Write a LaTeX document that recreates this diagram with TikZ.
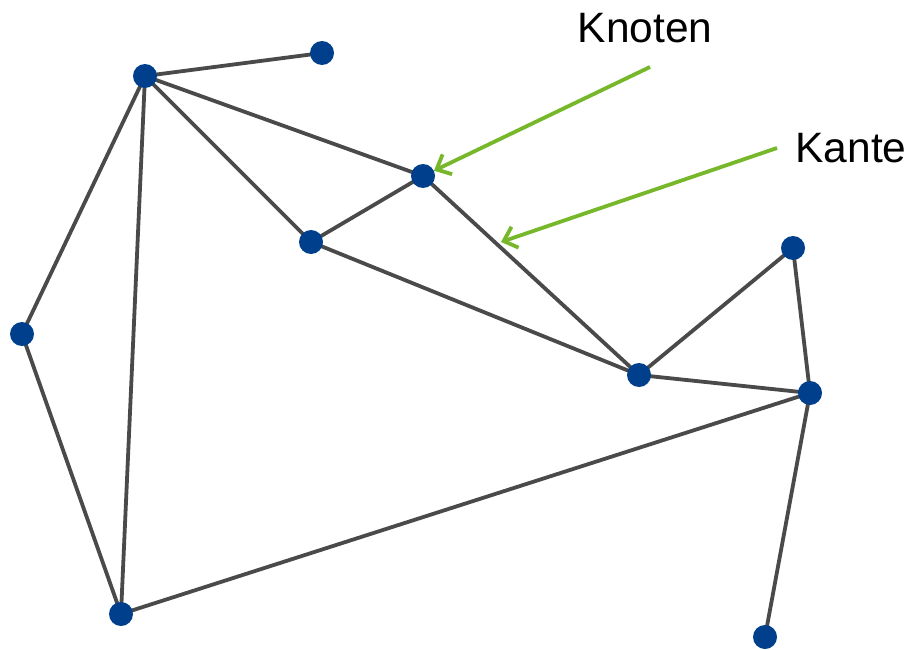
\documentclass[tikz,border=0pt]{standalone}
\usepackage{fontspec}
\setmainfont{Liberation Sans}
\usetikzlibrary{arrows.meta}
\definecolor{nodeblue}{HTML}{003F8C}
\definecolor{edgegray}{HTML}{4A4A4A}
\definecolor{arrowgreen}{HTML}{76B82A}
\begin{document}
\begin{tikzpicture}[x=1pt,y=-1pt,
  vertex/.style={circle,fill=nodeblue,inner sep=0pt,minimum size=24pt},
  edge/.style={draw=edgegray,line width=3.8pt},
  pointer/.style={draw=arrowgreen,line width=3.8pt,-{Straight Barb[length=12pt,width=22pt,line width=3.8pt]}},
  label/.style={font=\fontsize{42.5}{50}\selectfont,inner sep=0pt}]
\useasboundingbox (0,0) rectangle (915,650);
\coordinate (A) at (145,76);
\coordinate (B) at (322,53);
\coordinate (C) at (423,176);
\coordinate (D) at (311,242);
\coordinate (E) at (22,334);
\coordinate (F) at (639,375);
\coordinate (G) at (793,248);
\coordinate (H) at (810,393);
\coordinate (I) at (121,614);
\coordinate (J) at (765,637);
\path[edge] (A)--(B) (A)--(C) (A)--(D) (A)--(E) (A)--(I) (D)--(C) (C)--(F) (D)--(F)
  (E)--(I) (F)--(G) (F)--(H) (G)--(H) (H)--(I) (H)--(J);
\foreach \n in {A,B,C,D,E,F,G,H,I,J} \node[vertex] (n\n) at (\n) {};
\node[label] (knoten) at (645,28) {Knoten};
\node[label] (kante) at (851,148) {Kante};
\coordinate (k1) at (650,67);
\coordinate (k2) at (777,148);
\coordinate (e1) at (501,242);
\draw[pointer] (k1) -- (nC);
\draw[pointer] (k2) -- (e1);
\end{tikzpicture}
\end{document}
